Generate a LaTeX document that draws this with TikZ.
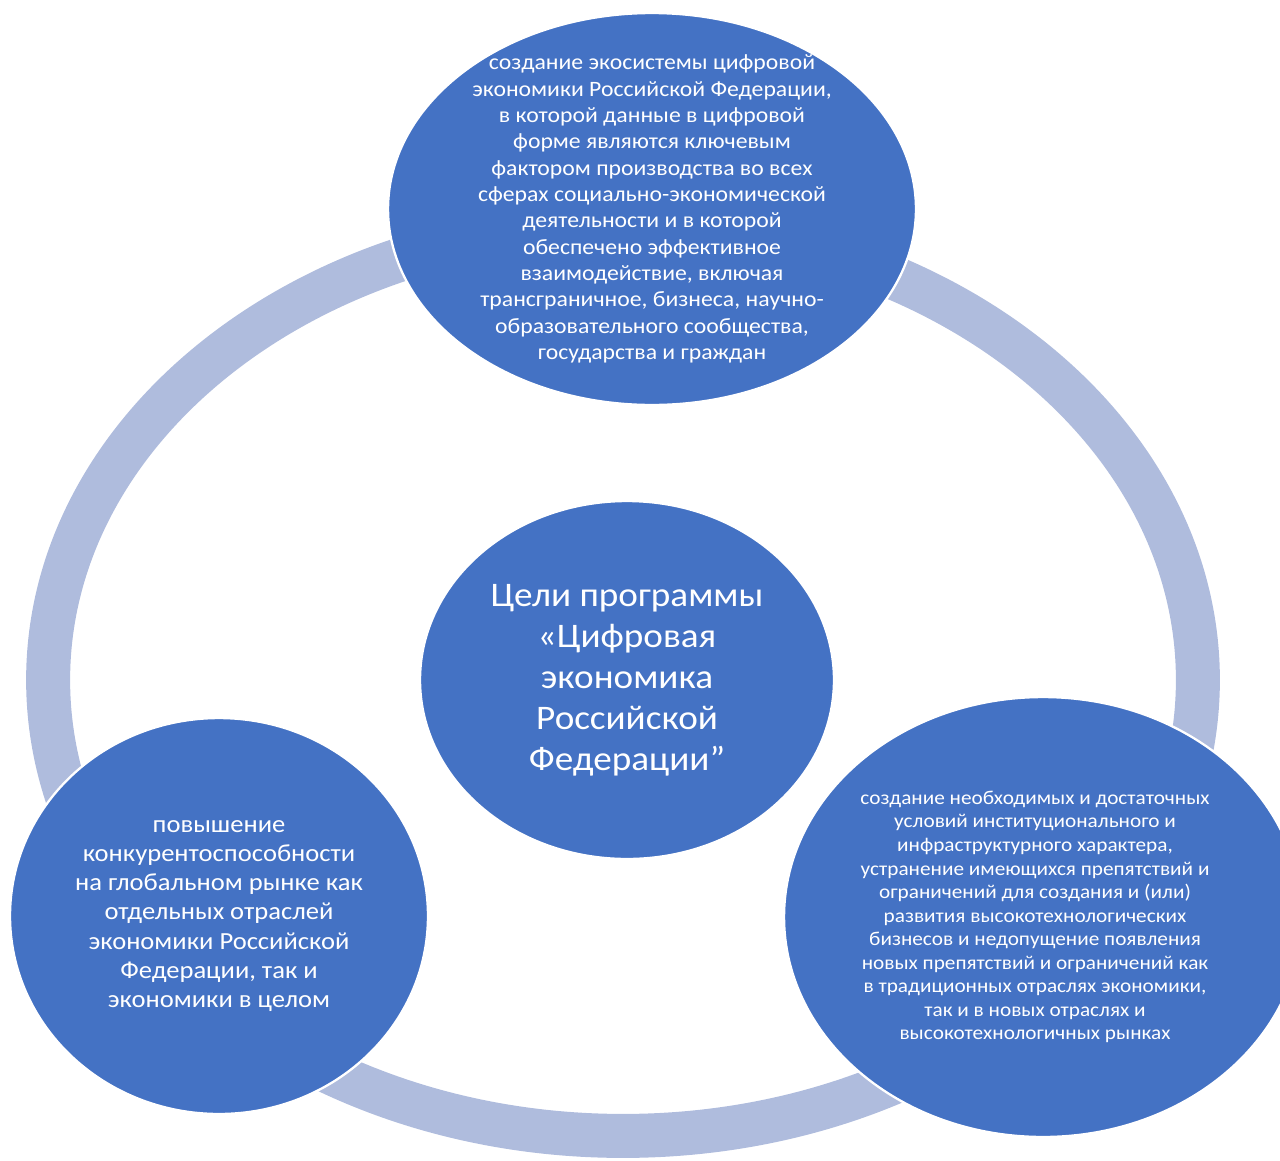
\documentclass[tikz,border=0pt]{standalone}
\usepackage{fontspec}
\setmainfont{Carlito}[FakeStretch=1.08]
\usepackage{tikz}
\usetikzlibrary{shapes.geometric}
\definecolor{GoalBlue}{HTML}{4472C4}
\definecolor{RingBlue}{HTML}{AFBCDD}

\begin{document}
\begin{tikzpicture}[x=0.02cm,y=-0.02cm,
  ring/.style={draw=RingBlue,line width=0.88cm},
  goal/.style={ellipse,fill=GoalBlue,draw=white,line width=1.3pt,inner sep=0pt},
  goaltext/.style={text=white,align=center,inner sep=0pt},
]
\useasboundingbox (0,0) rectangle (1280,1160);
% ring behind the four goals
\draw[ring] (623,680) ellipse [x radius=11.5cm,y radius=9.12cm];
\node[goal,minimum width=10.56cm,minimum height=7.84cm] (eco) at (652,209) {};
\node[goal,minimum width=8.28cm,minimum height=7.16cm] (aim) at (627,680) {};
\node[goal,minimum width=8.36cm,minimum height=7.92cm] (comp) at (219,916) {};
\node[goal,minimum width=10.36cm,minimum height=8.8cm] (cond) at (1043,917) {};
% texts
\node[goaltext,font=\fontsize{12.5pt}{15pt}\selectfont] (ecoText) at (eco)
  {создание экосистемы цифровой\\экономики Российской Федерации,\\в которой данные в цифровой\\форме являются ключевым\\фактором производства во всех\\сферах социально-экономической\\деятельности и в которой\\обеспечено эффективное\\взаимодействие, включая\\трансграничное, бизнеса, научно-\\образовательного сообщества,\\государства и граждан};
\node[goaltext,font=\fontsize{19.6pt}{23.3pt}\selectfont] (aimText) at (aim)
  {Цели программы\\«Цифровая\\экономика\\Российской\\Федерации\symbol{34}};
\node[goaltext,font=\fontsize{14pt}{16.6pt}\selectfont] (compText) at (comp)
  {повышение\\конкурентоспособности\\на глобальном рынке как\\отдельных отраслей\\экономики Российской\\Федерации, так и\\экономики в целом};
\node[goaltext,font=\fontsize{11.2pt}{13.4pt}\selectfont,xshift=-0.16cm] (condText) at (cond)
  {создание необходимых и достаточных\\условий институционального и\\инфраструктурного характера,\\устранение имеющихся препятствий и\\ограничений для создания и (или)\\развития высокотехнологических\\бизнесов и недопущение появления\\новых препятствий и ограничений как\\в традиционных отраслях экономики,\\так и в новых отраслях и\\высокотехнологичных рынках};
\end{tikzpicture}
\end{document}
